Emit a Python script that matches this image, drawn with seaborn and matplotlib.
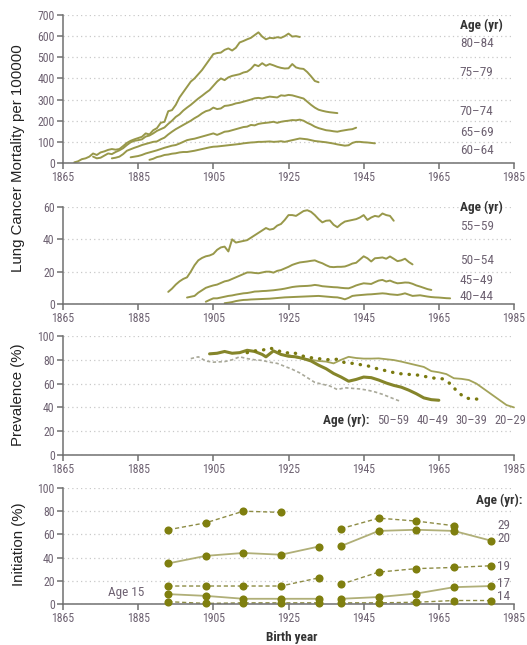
import numpy as np
import pandas as pd
import matplotlib
matplotlib.use('Agg')
import matplotlib.pyplot as plt
import seaborn as sns
from matplotlib import font_manager as fm

# ---------------- data ----------------
xticks = [1865, 1885, 1905, 1925, 1945, 1965, 1985]

# Panel 1: lung cancer mortality per 100000, ages 60-84 (one value per birth year)
m80_start = 1868
m80 = [3, 8, 18, 22, 30, 45, 38, 50, 55, 62, 66, 63, 66, 80, 95, 105, 112, 118, 124, 140,
       135, 155, 165, 190, 195, 245, 250, 275, 310, 335, 360, 385, 400, 420, 440, 465, 490, 515,
       520, 522, 535, 542, 532, 545, 570, 577, 585, 592, 605, 618, 598, 585, 592, 590, 595, 592,
       600, 612, 598, 600, 596]
m75_start = 1873
m75 = [30, 22, 25, 35, 45, 42, 52, 60, 70, 85, 98, 105, 108, 112, 125, 130, 140, 152, 160, 168,
       185, 200, 218, 230, 248, 262, 275, 290, 305, 318, 332, 345, 365, 385, 400, 392, 405, 412,
       416, 420, 428, 432, 445, 465, 458, 472, 460, 468, 462, 455, 450, 447, 448, 468, 452, 447,
       445, 430, 410, 388, 382]
m70_start = 1878
m70 = [22, 25, 30, 42, 58, 65, 72, 78, 85, 90, 95, 100, 102, 112, 120, 135, 148, 160, 170, 180,
       190, 200, 212, 222, 235, 245, 250, 262, 255, 258, 270, 272, 276, 282, 285, 290, 295, 300,
       306, 308, 305, 310, 314, 312, 310, 320, 318, 322, 320, 315, 310, 305, 290, 275, 262, 252,
       247, 243, 240, 238, 236]
m65_start = 1883
m65 = [27, 30, 33, 38, 45, 50, 55, 60, 66, 72, 77, 82, 85, 92, 100, 108, 112, 115, 120, 125,
       130, 135, 140, 133, 140, 148, 150, 155, 160, 165, 170, 172, 180, 178, 185, 188, 190, 192,
       195, 190, 195, 198, 200, 203, 202, 205, 200, 190, 182, 172, 165, 160, 155, 153, 150, 148,
       152, 155, 158, 160, 167]
m60_start = 1888
m60 = [15, 20, 28, 32, 38, 40, 44, 46, 50, 52, 52, 55, 58, 62, 66, 70, 74, 77, 78, 80, 82, 84,
       86, 88, 90, 93, 95, 97, 98, 100, 100, 101, 102, 100, 101, 103, 100, 104, 108, 112, 116,
       114, 112, 108, 104, 102, 100, 98, 95, 92, 88, 85, 82, 84, 95, 100, 100, 98, 97, 95, 93]
top_labels = ['80–84', '75–79', '70–74', '65–69', '60–64']
top_label_y = [563, 427, 243, 145, 61]

# Panel 2: ages 40-59
m55_start = 1893
m55 = [7.5, 9.5, 12, 14, 15.5, 16.5, 20, 24, 27, 28.5, 29.5, 30, 31, 33.5, 35, 35.5, 32.5, 40,
       38, 38.5, 39, 39.5, 41, 42.5, 44, 45.5, 47, 46, 46.5, 48.5, 49.5, 52, 55, 55, 54.5, 56,
       57.5, 58, 57, 55, 52.5, 50.5, 51.5, 51.7, 49, 47.5, 49.5, 51, 51.5, 52, 52.5, 53.5, 55,
       52, 53.5, 54.5, 54, 56, 55, 54.5, 51.5]
m50_start = 1898
m50 = [4, 4.5, 5, 7, 8.5, 10, 10.8, 11.5, 12, 13, 14, 14.5, 15.5, 16.5, 17.5, 18.5, 19.5, 19.5,
       19.2, 19, 19.5, 20, 20, 19.4, 20.5, 21, 22, 23, 24.2, 25, 25.7, 26, 26.3, 26.7, 27, 26,
       25.2, 24, 23, 22.8, 23, 23, 23.2, 24, 25, 25.5, 27.5, 29.5, 28.3, 26.3, 28.3, 28.5, 28.8,
       28, 29.4, 28, 26.5, 27, 28, 26, 24.5]
m45_start = 1903
m45 = [1.4, 2.5, 3.5, 3.5, 4, 4.5, 5, 5.3, 5.8, 6.2, 6.6, 6.8, 7.2, 7.7, 7.8, 8, 8.1, 8.3, 8.5,
       8.8, 9.1, 9.5, 10, 10.5, 10.8, 11, 11.1, 11.2, 11.4, 11.8, 11.5, 11, 10.8, 10.6, 10.4,
       10.3, 10, 9.8, 9.7, 10.5, 11.5, 12.2, 12.8, 12.6, 12.4, 13.5, 14.5, 14.9, 13.9, 14.5,
       13.5, 12.8, 13, 13.3, 13.2, 12.5, 11.5, 10.8, 10, 9.2, 8.7]
m40_start = 1908
m40 = [0.5, 0.8, 1.2, 1.8, 2.2, 2.5, 2.6, 2.8, 2.9, 3, 3.1, 3.2, 3.3, 3.5, 3.7, 3.9, 4.1, 4.2,
       4.3, 4.4, 4.5, 4.6, 4.7, 4.8, 4.9, 5, 4.8, 4.6, 4.4, 4.2, 4.1, 3.6, 2.9, 3.8, 5, 5.3,
       5.5, 5.7, 5.9, 6, 6.2, 6.4, 6.6, 6.4, 6, 5.8, 5.6, 6, 6.6, 5.8, 5, 5.2, 5.4, 5, 4.6,
       4.3, 4.1, 4, 3.8, 3.6, 3.5]
mid_labels = ['55–59', '50–54', '45–49', '40–44']
mid_label_y = [47.8, 27.2, 14.4, 4.5]

# Panel 3: smoking prevalence (%)
p50_years = [1899, 1901, 1903, 1905, 1908, 1910, 1912, 1914, 1916, 1918, 1920, 1922, 1924, 1926,
             1928, 1930, 1932, 1934, 1936, 1938, 1940, 1942, 1944, 1946, 1948, 1950, 1952, 1954, 1955]
p50 = [81, 82.5, 79, 78, 78.5, 80, 82.5, 81, 80, 79.5, 78, 77, 74.5, 72, 69, 65, 61, 59.5, 58,
       55, 56.5, 56, 55.5, 54.5, 53, 51, 48.5, 46, 45]
p40_years = [1904, 1906, 1908, 1910, 1912, 1914, 1916, 1918, 1919, 1921, 1923, 1925, 1927, 1929,
             1931, 1933, 1935, 1937, 1939, 1941, 1943, 1945, 1947, 1949, 1951, 1953, 1955, 1957,
             1959, 1961, 1963, 1965]
p40 = [85, 85.5, 87, 85.5, 86, 88, 87, 84.5, 82.5, 87.5, 84.5, 83, 82.5, 81, 79, 75.5, 72.5,
       68.5, 65.5, 62, 63.5, 65.5, 65, 63, 60.5, 58.5, 57, 54.5, 51.5, 48, 46.5, 46]
p30_years = [1914, 1916, 1918, 1920, 1922, 1924, 1926, 1928, 1930, 1932, 1934, 1936, 1938, 1940,
             1942, 1944, 1946, 1948, 1950, 1952, 1954, 1956, 1958, 1960, 1962, 1964, 1966, 1968,
             1970, 1972, 1974, 1976]
p30 = [86, 87.5, 88, 90, 88, 85.5, 86.5, 84, 82, 81.5, 80.5, 80, 80.5, 77.5, 77, 76, 75, 73,
       71.5, 70, 68.5, 68, 67.5, 67, 65.5, 64.5, 64, 60, 53, 48, 47, 47]
p20_years = [1925, 1927, 1929, 1931, 1933, 1935, 1937, 1939, 1941, 1943, 1945, 1947, 1949, 1951,
             1953, 1955, 1957, 1959, 1961, 1963, 1965, 1967, 1969, 1971, 1973, 1975, 1977, 1979,
             1981, 1983, 1985]
p20 = [84, 82, 81, 80, 79, 78.5, 77, 80, 82.5, 81.5, 81, 81, 81.2, 80.5, 79.8, 78.5, 77, 75.5,
       74, 70.5, 69.5, 68, 64.5, 64, 63, 60, 55.5, 51, 46.5, 42, 40]
prev_labels = ['50–59', '40–49', '30–39', '20–29']
prev_label_x = [1952.9, 1963.3, 1973.7, 1984.0]

# Panel 4: initiation (%) by age
g1_years = [1893, 1903, 1913, 1923, 1933]
g2_years = [1939, 1949, 1959, 1969, 1979]
i29_y1 = [1893, 1903, 1913, 1923]
i29_1 = [64, 70, 80, 79]
i29_y2 = [1939, 1949, 1959, 1969]
i29_2 = [65, 74, 71.5, 67.5]
i20_1 = [35, 41.5, 44, 42.5, 49.5]
i20_2 = [50, 63, 64, 63, 54.5]
i19_1 = [15.5, 15.5, 15.5, 15.5, 22.5]
i19_2 = [17, 27.5, 30.5, 31.5, 33]
i17_1 = [8.5, 7, 4.5, 4.5, 4.5]
i17_2 = [4.5, 6, 9, 14.5, 15.5]
i14_1 = [2, 0.5, 1, 1, 1]
i14_2 = [1, 1, 1.5, 3, 3]
init_labels = ['29', '20', '19', '17', '14']
init_label_y = [68, 56.6, 32, 17.8, 6.3]

# ---------------- style ----------------
sns.set_theme(style='white')
names = {f.name for f in fm.fontManager.ttflist}
cond_family, cond_stretch = 'DejaVu Sans', 'normal'
for cand in ['Roboto Condensed', 'Open Sans Condensed', 'Liberation Sans Narrow']:
    if cand in names:
        cond_family, cond_stretch = cand, 'normal'
        break
else:
    if any(f.name == 'DejaVu Sans' and f.stretch == 'condensed' for f in fm.fontManager.ttflist):
        cond_stretch = 'condensed'
plt.rcParams['font.family'] = [cond_family, 'DejaVu Sans']
plt.rcParams['font.stretch'] = cond_stretch

TICKC = '#6e6272'
SPINEC = '#707070'
LINEC = '#98984a'
LBLC = '#6e6272'

fig = plt.figure(figsize=(5.27, 6.45), dpi=100)
L, R = 63 / 527, 514 / 527


def pos(top_px, bot_px):
    return [L, 1 - bot_px / 645, R - L, (bot_px - top_px) / 645]


ax1 = fig.add_axes(pos(15, 163))
ax2 = fig.add_axes(pos(207, 304))
ax3 = fig.add_axes(pos(336, 455))
ax4 = fig.add_axes(pos(488, 604))


def style(ax, ymax, ystep):
    ax.set_xlim(1865, 1985)
    ax.set_ylim(0, ymax)
    ax.set_xticks(xticks)
    ax.set_yticks(np.arange(0, ymax + 1, ystep))
    for s in ['top', 'right']:
        ax.spines[s].set_visible(False)
    for s in ['left', 'bottom']:
        ax.spines[s].set_color(SPINEC)
        ax.spines[s].set_linewidth(1.1)
    ax.tick_params(direction='out', length=4, width=1.1, color=SPINEC, labelcolor=TICKC,
                   pad=2, left=True, bottom=True, labelsize=8.5)
    ax.yaxis.grid(True, ls=(0, (1, 2.5)), color='#c9c9c9', lw=0.9)
    ax.xaxis.grid(False)
    ax.set_axisbelow(True)
    ax.set_xlabel('')
    ax.set_ylabel('')


# Panel 1
for start, vals in [(m80_start, m80), (m75_start, m75), (m70_start, m70), (m65_start, m65),
                    (m60_start, m60)]:
    yrs = np.arange(start, start + len(vals))
    sns.lineplot(x=yrs, y=vals, ax=ax1, color=LINEC, lw=1.4, estimator=None, sort=False)
style(ax1, 700, 100)
ax1.text(1970.6, 653, 'Age (yr)', fontsize=9.5, fontweight='bold', color='#333333', va='center')
for lab, y in zip(top_labels, top_label_y):
    ax1.text(1970.6, y, lab, fontsize=9.5, color=LBLC, va='center')

# Panel 2
for start, vals in [(m55_start, m55), (m50_start, m50), (m45_start, m45), (m40_start, m40)]:
    yrs = np.arange(start, start + len(vals))
    sns.lineplot(x=yrs, y=vals, ax=ax2, color=LINEC, lw=1.4, estimator=None, sort=False)
style(ax2, 60, 20)
ax2.text(1970.6, 60, 'Age (yr)', fontsize=9.5, fontweight='bold', color='#333333', va='center')
for lab, y in zip(mid_labels, mid_label_y):
    ax2.text(1970.6, y, lab, fontsize=9.5, color=LBLC, va='center')

# Panel 3
sns.lineplot(x=p50_years, y=p50, ax=ax3, color='#a9a99a', lw=1.2, ls=(0, (2, 1.5)),
             estimator=None, sort=False)
sns.lineplot(x=p20_years, y=p20, ax=ax3, color='#a3a35a', lw=1.3, estimator=None, sort=False)
sns.lineplot(x=p40_years, y=p40, ax=ax3, color='#85852a', lw=2.2, estimator=None, sort=False)
sns.lineplot(x=p30_years, y=p30, ax=ax3, color='#7a7a10', lw=2.4, ls=(0, (0.1, 2.4)),
             estimator=None, sort=False)
ax3.lines[-1].set_dash_capstyle('round')
for ln in ax3.lines:
    ln.set_clip_on(False)
style(ax3, 100, 20)
ax3.text(1946.6, 29.4, 'Age (yr):', fontsize=9.5, fontweight='bold', color='#333333',
         va='center', ha='right')
for lab, x in zip(prev_labels, prev_label_x):
    ax3.text(x, 29.4, lab, fontsize=9.0, color=LBLC, va='center', ha='center')

# Panel 4
SOLIDC = '#b0af78'
DASHC = '#8d8c45'
DOTC = '#7f7f0f'
series4 = [
    (i29_y1, i29_1, i29_y2, i29_2, 'dash'),
    (g1_years, i20_1, g2_years, i20_2, 'solid'),
    (g1_years, i19_1, g2_years, i19_2, 'dash'),
    (g1_years, i17_1, g2_years, i17_2, 'solid'),
    (g1_years, i14_1, g2_years, i14_2, 'dash'),
]
for y1, v1, y2, v2, kind in series4:
    for yy, vv in [(y1, v1), (y2, v2)]:
        if kind == 'solid':
            sns.lineplot(x=yy, y=vv, ax=ax4, color=SOLIDC, lw=1.3, estimator=None, sort=False)
        else:
            sns.lineplot(x=yy, y=vv, ax=ax4, color=DASHC, lw=1.0, ls=(0, (3, 2)),
                         estimator=None, sort=False)
        sns.scatterplot(x=yy, y=vv, ax=ax4, color=DOTC, s=34, linewidth=0, zorder=5,
                        clip_on=False)
style(ax4, 100, 20)
ax4.text(1987.3, 89, 'Age (yr):', fontsize=9.5, fontweight='bold', color='#333333',
         va='center', ha='right')
for lab, y in zip(init_labels, init_label_y):
    ax4.text(1980.6, y, lab, fontsize=9.5, color=LBLC, va='center', ha='left')
ax4.text(1881.9, 9.7, 'Age 15', fontsize=9.5, color=LBLC, va='center', ha='center')

# axis titles
yl = dict(family=['Liberation Sans', 'DejaVu Sans'], stretch='normal', fontsize=10.8,
          color='#222222', rotation=90, ha='center', va='center')
fig.text(18 / 527, 1 - 158 / 645, 'Lung Cancer Mortality per 100000', **yl)
fig.text(18 / 527, 1 - 395 / 645, 'Prevalence (%)', **yl)
fig.text(19 / 527, 1 - 544 / 645, 'Initiation (%)', **yl)
fig.text(292 / 527, 1 - 638 / 645, 'Birth year', fontsize=9.5, fontweight='bold',
         color='#333333', ha='center', va='center')

fig.savefig('out.png', dpi=100)
